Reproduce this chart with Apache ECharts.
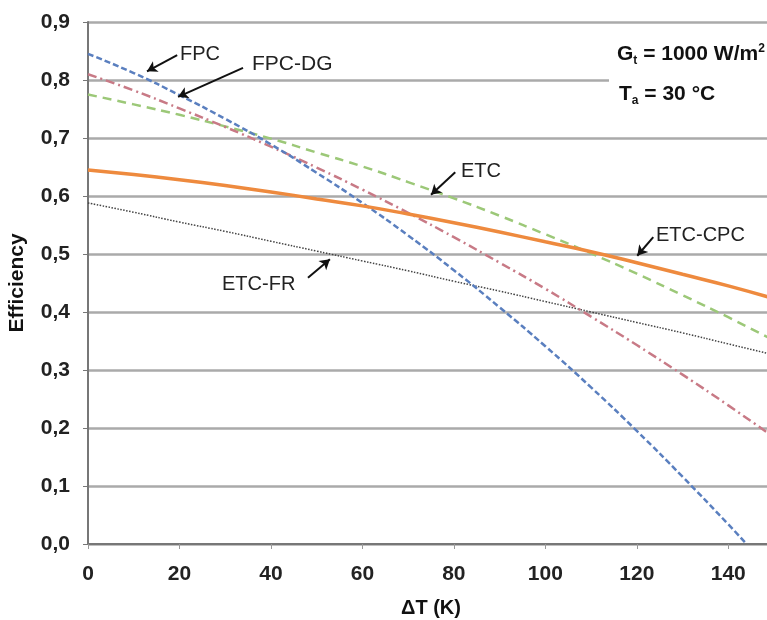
<!DOCTYPE html>
<html>
<head>
<meta charset="utf-8">
<script src="https://cdn.jsdelivr.net/npm/echarts@6/dist/echarts.min.js"></script>
<style>html,body{margin:0;padding:0;background:#fff}#c{width:767px;height:620px}</style>
</head>
<body>
<div id="c"></div>
<script>
// ΔT (K) sample points
var dT = [0, 10, 20, 30, 40, 50, 60, 70, 80, 90, 100, 110, 120, 130, 140, 150];
var dtFPC = [0, 10, 20, 30, 40, 50, 60, 70, 80, 90, 100, 110, 120, 130, 140, 144];
// Efficiency values
var fpc    = [0.845, 0.812, 0.774, 0.733, 0.689, 0.640, 0.588, 0.532, 0.472, 0.408, 0.341, 0.270, 0.195, 0.116, 0.034, 0.0];
var fpcDG  = [0.810, 0.782, 0.751, 0.719, 0.685, 0.649, 0.611, 0.571, 0.529, 0.485, 0.440, 0.392, 0.343, 0.292, 0.239, 0.184];
var etc    = [0.775, 0.758, 0.740, 0.720, 0.699, 0.675, 0.651, 0.624, 0.596, 0.566, 0.534, 0.501, 0.466, 0.429, 0.391, 0.351];
var etcCPC = [0.645, 0.637, 0.628, 0.618, 0.607, 0.595, 0.583, 0.569, 0.554, 0.538, 0.521, 0.504, 0.485, 0.465, 0.445, 0.423];
var etcFR  = [0.588, 0.572, 0.555, 0.539, 0.522, 0.505, 0.488, 0.471, 0.453, 0.436, 0.418, 0.400, 0.382, 0.364, 0.345, 0.326];

function pairs(xs, ys) { return xs.map(function (x, i) { return [x, ys[i]]; }); }

// annotation arrows: [label, start(x,y), tip(x,y)] in data units
var arrows = [
  ['FPC',     [19.5, 0.843], [12.9, 0.815]],
  ['FPC-DG',  [33.9, 0.821], [19.7, 0.771]],
  ['ETC',     [80.3, 0.641], [75.0, 0.602]],
  ['ETC-CPC', [123.6, 0.529], [120.1, 0.497]],
  ['ETC-FR',  [48.1, 0.459], [52.9, 0.491]]
];

var FONT = '"Liberation Sans", Arial, sans-serif';
var chart = echarts.init(document.getElementById('c'), null, {renderer: 'canvas'});

function line(name, xs, ys, color, width, type, extra) {
  var s = {
    name: name, type: 'line', data: pairs(xs, ys), smooth: true, showSymbol: false,
    symbol: 'none', lineStyle: {color: color, width: width, type: type}, z: 3
  };
  if (extra) for (var k in extra) s[k] = extra[k];
  return s;
}

var markData = arrows.map(function (a) {
  return [{coord: a[1]}, {coord: a[2]}];
});

chart.setOption({
  animation: false,
  backgroundColor: '#fff',
  grid: {left: 88, top: 22, width: 686, bottom: 76, containLabel: false, outerBoundsMode: 'none'},
  xAxis: {
    type: 'value', min: 0, max: 150, interval: 20,
    name: 'ΔT (K)', nameLocation: 'middle', nameGap: 54,
    nameTextStyle: {fontFamily: FONT, fontWeight: 'bold', fontSize: 20, color: '#111'},
    axisLine: {show: true, lineStyle: {color: '#777', width: 2}},
    axisTick: {show: true, length: 5, lineStyle: {color: '#999', width: 1}},
    axisLabel: {fontFamily: FONT, fontWeight: 'bold', fontSize: 21, color: '#222', margin: 20, showMaxLabel: false},
    splitLine: {show: false}
  },
  yAxis: {
    type: 'value', min: 0, max: 0.9, interval: 0.1,
    name: 'Efficiency', nameLocation: 'middle', nameGap: 60, nameRotate: 90,
    nameTextStyle: {fontFamily: FONT, fontWeight: 'bold', fontSize: 21, color: '#111'},
    axisLine: {show: true, lineStyle: {color: '#777', width: 2}},
    axisTick: {show: true, length: 5, lineStyle: {color: '#777', width: 1}},
    axisLabel: {fontFamily: FONT, fontWeight: 'bold', fontSize: 21, color: '#222', margin: 18,
      formatter: function (v) { return v.toFixed(1).replace('.', ','); }},
    splitLine: {show: true, lineStyle: {color: '#aaa', width: 2.5}}
  },
  series: [
    line('ETC-FR', dT, etcFR, '#444', 1.5, [1.5, 1.5]),
    line('ETC', dT, etc, '#9cc878', 2.5, [9, 6]),
    line('FPC-DG', dT, fpcDG, '#c87a86', 2.5, [9, 4, 2, 4]),
    line('FPC', dtFPC, fpc, '#5a7fbf', 2.5, [6, 3]),
    line('ETC-CPC', dT, etcCPC, '#ee8a3e', 3.5, 'solid', {
      markLine: {
        silent: true, symbol: ['none', 'arrow'], symbolSize: [9, 10],
        lineStyle: {color: '#111', width: 2, type: 'solid'},
        label: {show: false},
        data: markData
      }
    })
  ],
  graphic: [
    {type: 'rect', shape: {x: 609, y: 34, width: 170, height: 76}, style: {fill: '#fff'}, z: 5},
    {type: 'text', x: 617, y: 42, z: 6, style: {
      text: 'G{s|t} = 1000 W/m{p|2}', fontFamily: FONT, fontWeight: 'bold', fontSize: 21, fill: '#111',
      rich: {s: {fontSize: 12, fontWeight: 'bold', fontFamily: FONT, padding: [13, 0, 0, 0]},
             p: {fontSize: 12, fontWeight: 'bold', fontFamily: FONT, padding: [0, 0, 11, 0]}}
    }},
    {type: 'text', x: 619, y: 82, z: 6, style: {
      text: 'T{s|a} = 30 °C', fontFamily: FONT, fontWeight: 'bold', fontSize: 21, fill: '#111',
      rich: {s: {fontSize: 12, fontWeight: 'bold', fontFamily: FONT, padding: [13, 0, 0, 0]}}
    }},
    {type: 'text', x: 180, y: 44, z: 6, style: {text: 'FPC', fontFamily: FONT, fontSize: 20, fill: '#222'}},
    {type: 'text', x: 252, y: 54, z: 6, style: {text: 'FPC-DG', fontFamily: FONT, fontSize: 21, fill: '#222'}},
    {type: 'text', x: 461, y: 161, z: 6, style: {text: 'ETC', fontFamily: FONT, fontSize: 20, fill: '#222'}},
    {type: 'text', x: 656, y: 225, z: 6, style: {text: 'ETC-CPC', fontFamily: FONT, fontSize: 20, fill: '#222'}},
    {type: 'text', x: 222, y: 274, z: 6, style: {text: 'ETC-FR', fontFamily: FONT, fontSize: 20, fill: '#222'}}
  ]
});
</script>
</body>
</html>
